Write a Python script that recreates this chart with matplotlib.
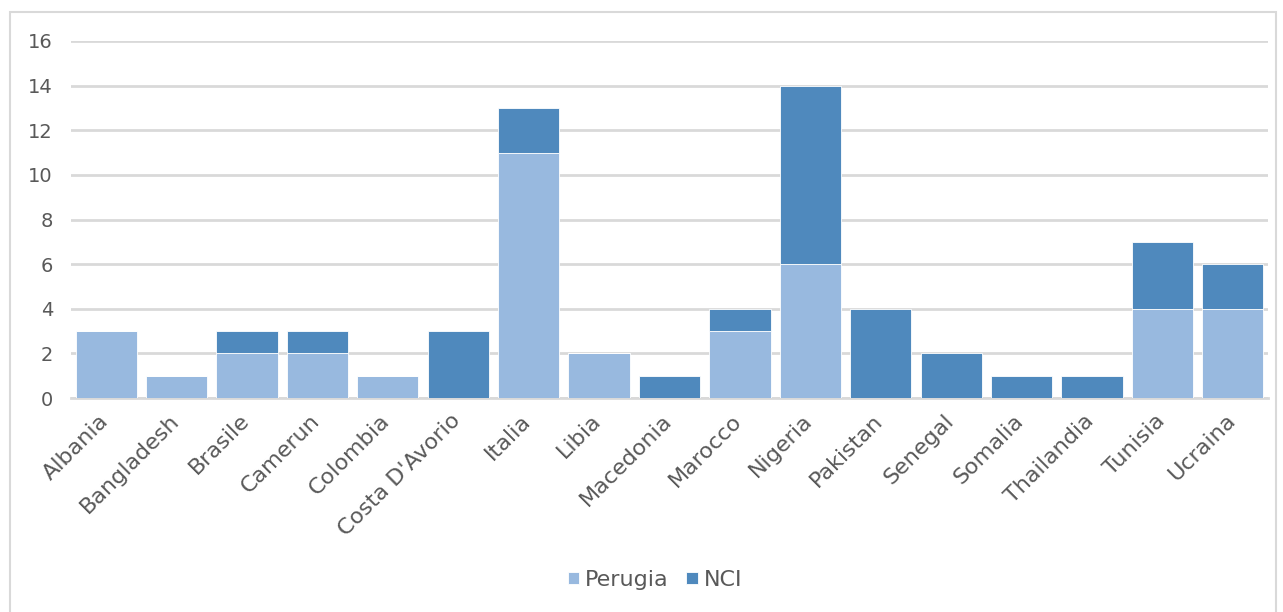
#!/usr/bin/env python3

'''
Stacked bars: Perugia vs NCI by country.
'''

import numpy as np
import matplotlib
matplotlib.use('Agg')
import matplotlib.pyplot as pl
from matplotlib.patches import Rectangle
from matplotlib.transforms import ScaledTranslation

countries=['Albania','Bangladesh','Brasile','Camerun','Colombia',"Costa D'Avorio",
           'Italia','Libia','Macedonia','Marocco','Nigeria','Pakistan','Senegal',
           'Somalia','Thailandia','Tunisia','Ucraina']
perugia=[3,1,2,2,1,0,11,2,0,3,6,0,0,0,0,4,4]
nci=[0,0,1,1,0,3,2,0,1,1,8,4,2,1,1,3,2]
yticks=[0,2,4,6,8,10,12,14,16]

col_perugia='#98b9df'
col_nci='#4f89bd'
txtcol='#595959'
gridcol='#d9d9d9'

pl.rcParams['font.family']=['DejaVu Sans']

fig=pl.figure(figsize=(12.83,6.12),dpi=100)
fig.patches.append(Rectangle((10/1283,-0.01),(1276-10)/1283,1-12/612+0.01,
                             transform=fig.transFigure,fill=False,
                             edgecolor=gridcol,linewidth=1.5))

ax=fig.add_axes([71/1283,1-398/612,(1268-71)/1283,(398-41)/612])
x=np.arange(len(countries))
ax.bar(x,perugia,width=0.87,color=col_perugia,edgecolor='white',linewidth=0.6,
       label='Perugia',zorder=3)
ax.bar(x,nci,width=0.87,bottom=perugia,color=col_nci,edgecolor='white',linewidth=0.6,
       label='NCI',zorder=3)

ax.set_xlim(-0.5,len(countries)-0.5)
ax.set_ylim(0,16)
ax.set_yticks(yticks)
ax.yaxis.grid(True,color=gridcol,linewidth=2,zorder=0)
ax.set_axisbelow(True)
for s in ['top','right','left']:
    ax.spines[s].set_visible(False)
ax.spines['bottom'].set_color(gridcol)
ax.spines['bottom'].set_linewidth(2)
ax.tick_params(axis='both',length=0,colors=txtcol)
ax.tick_params(axis='y',pad=13,labelsize=14)
ax.set_xticks(x)
ax.set_xticklabels(countries,rotation=45,ha='right',va='top',rotation_mode='anchor',
                   fontsize=16)
ax.tick_params(axis='x',pad=9)
shift=ScaledTranslation(-8/100,0,fig.dpi_scale_trans)
for lab in ax.get_xticklabels():
    lab.set_transform(lab.get_transform()+shift)

ax.legend(loc='center',bbox_to_anchor=(655/1283,1-580/612),bbox_transform=fig.transFigure,
          ncol=2,frameon=False,fontsize=16,labelcolor=txtcol,handlelength=0.5,
          handleheight=0.5,handletextpad=0.27,columnspacing=0.8)

pl.savefig('out.png',dpi=100)
